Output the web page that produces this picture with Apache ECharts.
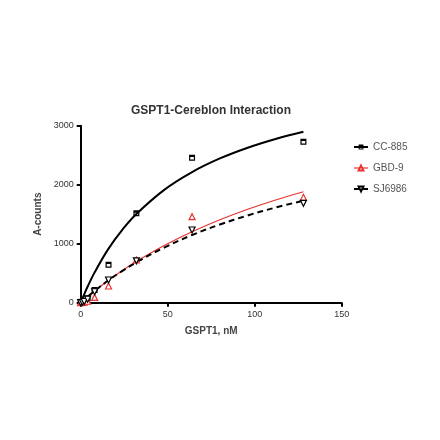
<!DOCTYPE html>
<html><head><meta charset="utf-8">
<script src="https://cdn.jsdelivr.net/npm/echarts@6/dist/echarts.min.js"></script>
<style>html,body{margin:0;padding:0;background:#fff}#c{width:440px;height:440px}</style>
</head><body><div id="c"></div>
<script>
const seriesNames = ['CC-885', 'GBD-9', 'SJ6986'];
const concentrations = [0, 1, 2, 4, 8, 16, 32, 64, 128];
const cc885 = [0, 10, 30, 75, 215, 644, 1515, 2458, 2729];
const gbd9 = [0, 5, 10, 25, 90, 283, 724, 1458, 1786];
const sj6986 = [0, 8, 20, 60, 186, 385, 710, 1232, 1685];
const fitX = [0, 2, 4, 8, 16, 24, 32, 48, 64, 80, 96, 112, 128];
const fitCC885 = [0, 142, 274, 514, 917, 1239, 1504, 1913, 2214, 2445, 2627, 2775, 2898];
const fitGBD9 = [0, 52, 102, 199, 381, 547, 699, 970, 1203, 1406, 1584, 1741, 1881];
const fitSJ6986 = [0, 52, 103, 200, 380, 540, 685, 935, 1147, 1325, 1479, 1613, 1729];
const xTicks = [0, 50, 100, 150];
const yTicks = [0, 1000, 2000, 3000];

const pair = (xs, ys) => xs.map((x, i) => [x, ys[i]]);
const FONT = 'Liberation Sans, Arial, sans-serif';
const squareHalf = 'path://M0,0H10V10H0Z M2,4V8H8V4Z';

const chart = echarts.init(document.getElementById('c'));
chart.setOption({
  animation: false,
  backgroundColor: '#fff',
  title: {
    text: 'GSPT1-Cereblon Interaction',
    left: 206, top: 100, textAlign: 'center',
    textStyle: {fontFamily: FONT, fontSize: 12, fontWeight: 'bold', color: '#333'}
  },
  legend: {
    orient: 'vertical', left: 348, top: 137, itemWidth: 14, itemHeight: 6, itemGap: 11,
    textStyle: {fontFamily: FONT, fontSize: 10, color: '#555'},
    data: [
      {name: seriesNames[0], lineStyle: {opacity: 1, width: 2, type: 'solid'}},
      {name: seriesNames[1], lineStyle: {opacity: 1, width: 1.2, type: 'solid'}},
      {name: seriesNames[2], lineStyle: {opacity: 1, width: 2, type: 'solid'}}
    ]
  },
  grid: {left: 80.7, right: 98.3, top: 125.7, bottom: 137.3, containLabel: false},
  xAxis: {
    type: 'value', min: 0, max: 150, interval: 50,
    name: 'GSPT1, nM', nameLocation: 'middle', nameGap: 24,
    nameTextStyle: {fontFamily: FONT, fontSize: 10, fontWeight: 'bold', color: '#444'},
    axisLine: {lineStyle: {color: '#000', width: 2}},
    axisTick: {show: true, length: 4, lineStyle: {color: '#000', width: 2}},
    axisLabel: {fontFamily: FONT, fontSize: 9, color: '#333', margin: 7,
      formatter: v => xTicks.includes(v) ? String(v) : ''},
    splitLine: {show: false}
  },
  yAxis: {
    type: 'value', min: 0, max: 3000, interval: 1000,
    name: 'A-counts', nameLocation: 'middle', nameGap: 31,
    nameTextStyle: {fontFamily: FONT, fontSize: 10, fontWeight: 'bold', color: '#444'},
    axisLine: {show: true, lineStyle: {color: '#000', width: 2}},
    axisTick: {show: true, length: 4, lineStyle: {color: '#000', width: 2}},
    axisLabel: {fontFamily: FONT, fontSize: 9, color: '#333', margin: 7,
      formatter: v => yTicks.includes(v) ? String(v) : ''},
    splitLine: {show: false}
  },
  series: [
    {name: 'fit1', type: 'line', data: pair(fitX, fitCC885), smooth: 0.4, showSymbol: false, symbol: 'none',
      lineStyle: {color: '#000', width: 2}, z: 2},
    {name: 'fit2', type: 'line', data: pair(fitX, fitGBD9), smooth: 0.4, showSymbol: false, symbol: 'none',
      lineStyle: {color: '#e8322e', width: 1.2}, z: 2},
    {name: 'fit3', type: 'line', data: pair(fitX, fitSJ6986), smooth: 0.4, showSymbol: false, symbol: 'none',
      lineStyle: {color: '#000', width: 2, type: [6, 4]}, z: 2},
    {name: seriesNames[0], type: 'line', data: pair(concentrations, cc885),
      symbol: squareHalf, symbolSize: 6, showSymbol: true,
      itemStyle: {color: '#000', borderWidth: 0},
      lineStyle: {color: '#000', opacity: 0}, z: 3},
    {name: seriesNames[1], type: 'line', data: pair(concentrations, gbd9),
      symbol: 'triangle', symbolSize: 6, showSymbol: true,
      itemStyle: {color: '#fff', borderColor: '#e8322e', borderWidth: 1.2},
      lineStyle: {color: '#e8322e', opacity: 0}, z: 3},
    {name: seriesNames[2], type: 'line', data: pair(concentrations, sj6986),
      symbol: 'triangle', symbolRotate: 180, symbolSize: 6, showSymbol: true,
      itemStyle: {color: '#fff', borderColor: '#000', borderWidth: 1.2},
      lineStyle: {color: '#000', opacity: 0}, z: 3}
  ]
});
</script></body></html>
